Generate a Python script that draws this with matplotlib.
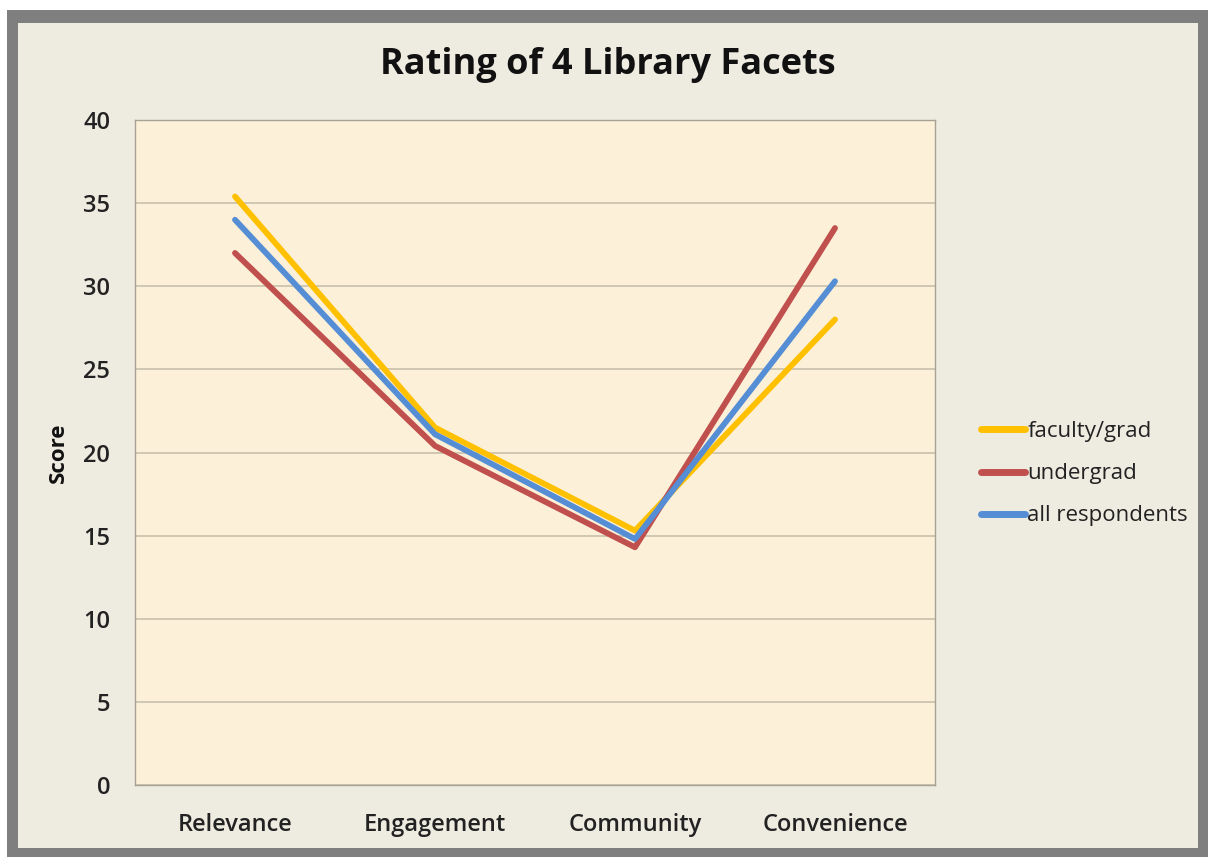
import matplotlib
matplotlib.use('Agg')
import matplotlib.pyplot as plt
from matplotlib.patches import Rectangle

# ===========================
# Dados
# ===========================
categorias = ['Relevance', 'Engagement', 'Community', 'Convenience']
faculty_grad = [35.4, 21.5, 15.3, 28.0]
undergrad = [32.0, 20.4, 14.3, 33.5]
all_respondents = [34.0, 21.1, 14.8, 30.3]
y_ticks = [0, 5, 10, 15, 20, 25, 30, 35, 40]

plt.rcParams['font.family'] = ['Open Sans', 'DejaVu Sans']

W, H = 1208, 857
fig = plt.figure(figsize=(W / 100, H / 100), dpi=100)
fig.patch.set_facecolor('white')

# moldura cinza e fundo do gráfico
fig.patches.append(Rectangle((7 / W, 0), 1 - 7 / W, 1 - 10 / H, transform=fig.transFigure,
                             facecolor='#7f7f7f', edgecolor='none', zorder=-3))
fig.patches.append(Rectangle((18 / W, 9 / H), (1198 - 18) / W, (848 - 23) / H, transform=fig.transFigure,
                             facecolor='#eeebe0', edgecolor='none', zorder=-2))

ax = fig.add_axes([135 / W, 1 - 785 / H, 800 / W, 665 / H])
ax.set_facecolor('#fcf0d9')

x = range(len(categorias))
ax.plot(x, faculty_grad, color='#ffc000', lw=4.2, label='faculty/grad', solid_capstyle='round', zorder=3)
ax.plot(x, undergrad, color='#c0504d', lw=4.2, label='undergrad', solid_capstyle='round', zorder=4)
ax.plot(x, all_respondents, color='#558ed5', lw=4.2, label='all respondents', solid_capstyle='round', zorder=5)

ax.set_xlim(-0.5, len(categorias) - 0.5)
ax.set_ylim(0, 40)
ax.set_yticks(y_ticks)
ax.set_xticks(list(x))
ax.set_xticklabels(categorias)
ax.yaxis.grid(True, color='#c9c1ad', lw=1.2)
ax.set_axisbelow(True)
ax.tick_params(length=0, labelsize=17, colors='#222222')
ax.tick_params(axis='y', pad=18)
ax.tick_params(axis='x', pad=20)
for lab in ax.get_xticklabels() + ax.get_yticklabels():
    lab.set_fontweight('semibold')
for s in ax.spines.values():
    s.set_color('#a8a294')
    s.set_linewidth(1.0)

ax.set_ylabel('Score', fontsize=16, fontweight='bold', labelpad=10, color='#111111')

fig.text(0.503, 1 - 65 / H, 'Rating of 4 Library Facets', ha='center', va='center',
         fontsize=26, fontweight='bold', color='#111111')

leg = ax.legend(loc='center left', bbox_to_anchor=(1.032, 0.468), frameon=False, fontsize=16,
                handlelength=2.0, handletextpad=0.1, labelspacing=0.95)
for t in leg.get_texts():
    t.set_color('#222222')
for h in leg.get_lines():
    h.set_linewidth(5)

fig.savefig('out.png', dpi=100, facecolor=fig.get_facecolor())
